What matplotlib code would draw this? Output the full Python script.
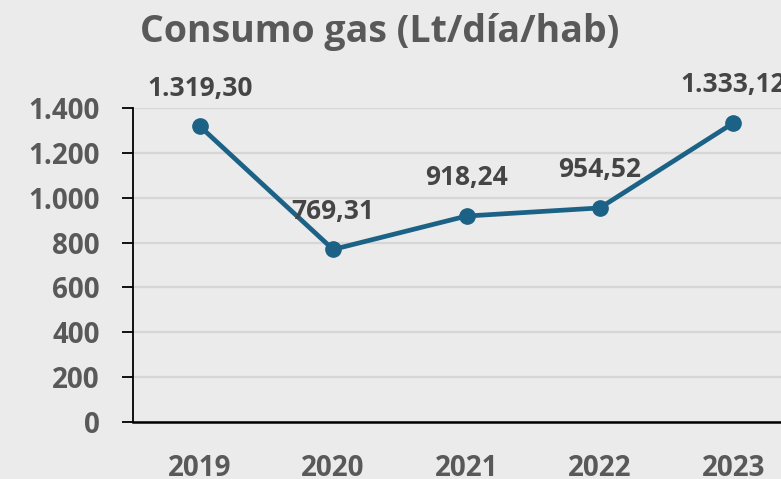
import matplotlib
matplotlib.use("Agg")
import matplotlib.pyplot as plt
from matplotlib.ticker import FuncFormatter

years = ["2019", "2020", "2021", "2022", "2023"]
values = [1319.30, 769.31, 918.24, 954.52, 1333.12]
labels = ["1.319,30", "769,31", "918,24", "954,52", "1.333,12"]
yticks = [0, 200, 400, 600, 800, 1000, 1200, 1400]

BG = "#ebebeb"
TXT = "#595959"
DTXT = "#454545"
LINE = "#1b6286"
FONT = ["Open Sans", "DejaVu Sans"]

plt.rcParams["font.family"] = FONT

fig = plt.figure(figsize=(7.81, 4.79), dpi=100, facecolor=BG)
ax = fig.add_axes([133/781, 1-422/479, (800-133)/781, (422-108)/479])
ax.set_facecolor(BG)

x = list(range(len(years)))
ax.plot(x, values, color=LINE, lw=3.4, marker="o", ms=11, zorder=3, clip_on=False)
for xi, v, lab in zip(x, values, labels):
    ax.annotate(lab, (xi, v), xytext=(0, 22), textcoords="offset points",
                ha="center", va="baseline", fontsize=19, fontweight="bold",
                color=DTXT, annotation_clip=False)

ax.set_xlim(-0.5, 4.5)
ax.set_ylim(0, 1400)
ax.set_yticks(yticks)
ax.yaxis.set_major_formatter(FuncFormatter(lambda v, p: f"{int(v):,}".replace(",", ".")))
ax.set_xticks(x)
ax.set_xticklabels(years)
ax.grid(axis="y", color="#d6d6d6", lw=1.6, zorder=0)
ax.set_axisbelow(True)

for s in ["top", "right"]:
    ax.spines[s].set_visible(False)
ax.spines["left"].set_color("black")
ax.spines["left"].set_linewidth(1.3)
ax.spines["bottom"].set_color("black")
ax.spines["bottom"].set_linewidth(1.8)

ax.tick_params(axis="y", length=8, width=1.3, color="black", pad=16,
               labelsize=20, labelcolor=TXT)
ax.tick_params(axis="x", length=0, pad=23, labelsize=20, labelcolor=TXT)
for t in ax.get_yticklabels() + ax.get_xticklabels():
    t.set_fontweight("bold")

fig.text(380/781, 1-32/479, "Consumo gas (Lt/día/hab)", ha="center", va="center",
         fontsize=27, fontweight="bold", color=TXT)

fig.savefig("out.png", dpi=100, facecolor=BG)
